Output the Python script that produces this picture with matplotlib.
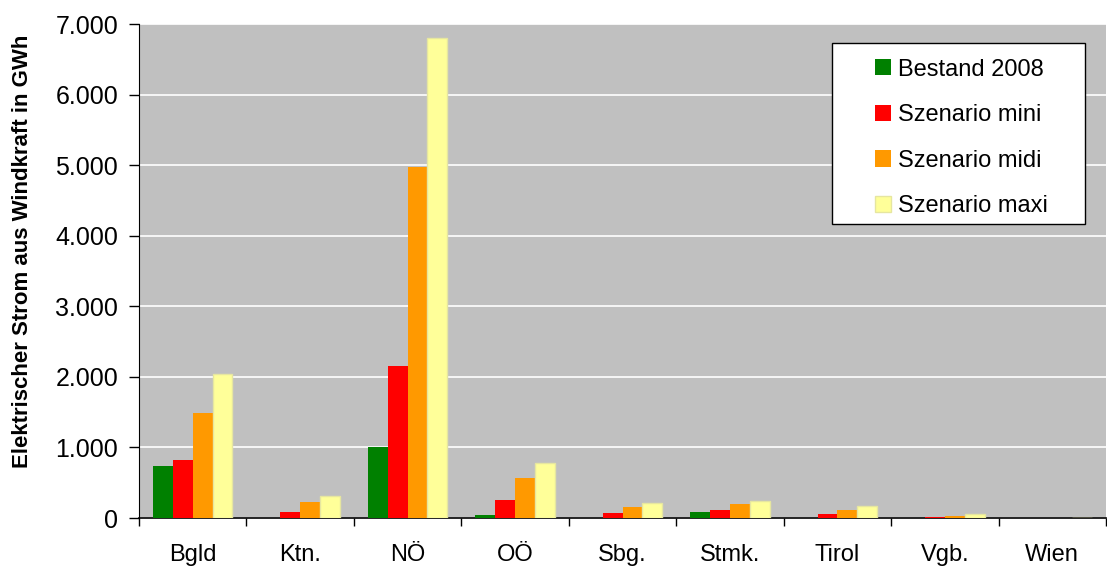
import matplotlib
matplotlib.use("Agg")
import matplotlib.pyplot as plt
import numpy as np
from matplotlib.ticker import FuncFormatter, FixedLocator
from matplotlib.patches import Rectangle

categories = ["Bgld", "Ktn.", "NÖ", "OÖ", "Sbg.", "Stmk.", "Tirol", "Vgb.", "Wien"]
series_names = ["Bestand 2008", "Szenario mini", "Szenario midi", "Szenario maxi"]
bestand = [737, 0, 1005, 40, 0, 80, 0, 0, 5]
mini = [820, 85, 2150, 255, 65, 120, 50, 10, 7]
midi = [1490, 225, 4970, 565, 155, 200, 120, 35, 3]
maxi = [2040, 310, 6800, 775, 215, 235, 165, 50, 0]
yticks = [0, 1000, 2000, 3000, 4000, 5000, 6000, 7000]

plt.rcParams['font.family'] = ['Liberation Sans', 'DejaVu Sans']

fig = plt.figure(figsize=(11.07, 5.72), dpi=100)
ax = fig.add_axes([139/1107, 1-518/572, (1106-139)/1107, (518-24)/572])
ax.set_facecolor('#C0C0C0')

x = np.arange(len(categories))
w = 0.185
colors = ['#008000', '#FF0000', '#FF9900', '#FFFF99']
edges = ['#008000', '#FF0000', '#FF9900', '#E6E6A0']
data = [bestand, mini, midi, maxi]
for i, (vals, c, e, n) in enumerate(zip(data, colors, edges, series_names)):
    ax.bar(x + (i - 1.5) * w, vals, width=w, color=c, edgecolor=e, linewidth=1 if i == 3 else 0, label=n, zorder=3)

ax.set_xlim(-0.5, len(categories) - 0.5)
ax.set_ylim(0, 7000)
ax.set_yticks(yticks)
ax.yaxis.set_major_formatter(FuncFormatter(lambda v, p: f"{int(v):,}".replace(",", ".")))
ax.grid(axis='y', color='white', linewidth=1.2, zorder=1)
ax.set_axisbelow(True)

ax.xaxis.set_major_locator(FixedLocator(np.arange(-0.5, len(categories) + 0.5, 1)))
ax.xaxis.set_minor_locator(FixedLocator(x))
ax.set_xticklabels([])
ax.set_xticklabels(categories, minor=True)
ax.tick_params(axis='x', which='major', length=6, width=1, direction='out')
ax.tick_params(axis='x', which='minor', length=0, pad=19, labelsize=17)
ax.tick_params(axis='y', length=7, width=1, direction='out', labelsize=18, pad=8)

for s in ['top', 'right']:
    ax.spines[s].set_visible(False)
ax.spines['left'].set_color('black')
ax.spines['bottom'].set_color('black')
ax.spines['bottom'].set_linewidth(1.2)

ax.set_ylabel("Elektrischer Strom aus Windkraft in GWh", fontsize=16, fontweight='bold')
ax.yaxis.set_label_coords(-0.110, 0.54)

ax.add_patch(Rectangle((0.7166, 0.595), 0.2616, 0.3664, transform=ax.transAxes,
                       facecolor='white', edgecolor='black', linewidth=1.0, zorder=4))
leg = ax.legend(loc='upper left', bbox_to_anchor=(0.761, 0.93), fontsize=17, frameon=False,
                borderpad=0, labelspacing=1.0, handlelength=0.68, handleheight=0.68,
                handletextpad=0.3, borderaxespad=0)
leg.set_zorder(5)

fig.savefig("out.png", dpi=100, facecolor='white')
